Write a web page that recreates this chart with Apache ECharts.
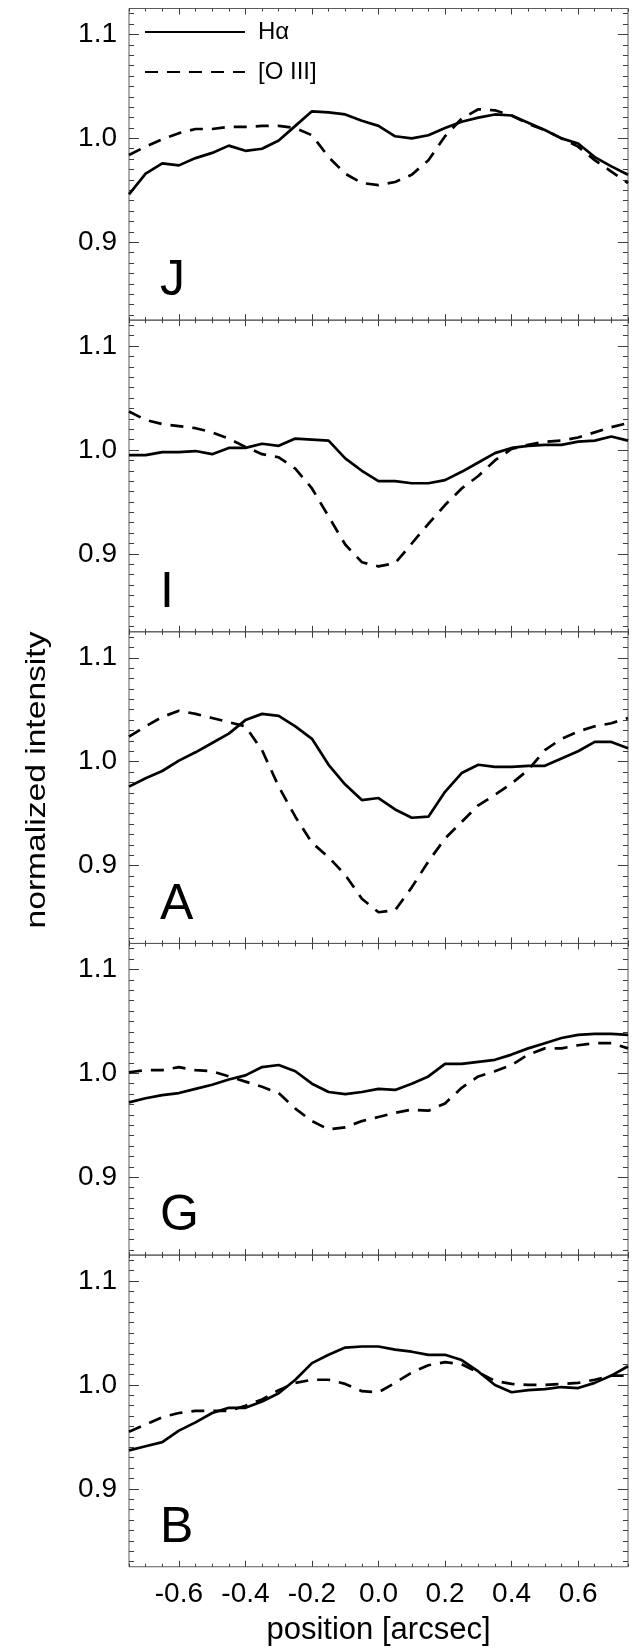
<!DOCTYPE html>
<html>
<head>
<meta charset="utf-8">
<script src="https://cdn.jsdelivr.net/npm/echarts@6/dist/echarts.min.js"></script>
<style>
  html, body { margin: 0; padding: 0; background: #fff; }
  #chart { width: 638px; height: 1650px; }
</style>
</head>
<body>
<div id="chart"></div>
<script>
// slit positions in arcsec
const positions = [-0.75, -0.7, -0.65, -0.6, -0.55, -0.5, -0.45, -0.4, -0.35, -0.3, -0.25, -0.2, -0.15, -0.1, -0.05,
  0, 0.05, 0.1, 0.15, 0.2, 0.25, 0.3, 0.35, 0.4, 0.45, 0.5, 0.55, 0.6, 0.65, 0.7, 0.75]

const panelNames = ['J', 'I', 'A', 'G', 'B']

const haJ = [0.946, 0.966, 0.976, 0.974, 0.981, 0.986, 0.993, 0.988, 0.990, 0.998, 1.012, 1.026, 1.025, 1.023, 1.017,
  1.012, 1.002, 1.000, 1.003, 1.010, 1.016, 1.020, 1.023, 1.022, 1.015, 1.008, 1.000, 0.995, 0.982, 0.973, 0.965]
const o3J = [0.984, 0.992, 0.999, 1.005, 1.009, 1.009, 1.011, 1.011, 1.012, 1.012, 1.010, 1.003, 0.982, 0.966, 0.957,
  0.955, 0.958, 0.965, 0.979, 1.002, 1.019, 1.028, 1.027, 1.022, 1.014, 1.008, 1.000, 0.992, 0.979, 0.968, 0.957]

const haI = [0.995, 0.995, 0.998, 0.998, 0.999, 0.996, 1.002, 1.002, 1.006, 1.004, 1.011, 1.010, 1.009, 0.992, 0.980,
  0.970, 0.970, 0.968, 0.968, 0.971, 0.979, 0.988, 0.997, 1.002, 1.004, 1.005, 1.005, 1.008, 1.009, 1.013, 1.009]
const o3I = [1.037, 1.029, 1.025, 1.023, 1.021, 1.017, 1.011, 1.003, 0.996, 0.993, 0.982, 0.963, 0.936, 0.909, 0.892,
  0.888, 0.891, 0.910, 0.929, 0.947, 0.963, 0.975, 0.990, 1.001, 1.005, 1.008, 1.009, 1.012, 1.017, 1.022, 1.026]

const haA = [0.976, 0.984, 0.991, 1.001, 1.009, 1.018, 1.027, 1.040, 1.046, 1.044, 1.034, 1.022, 0.997, 0.978, 0.963,
  0.965, 0.954, 0.946, 0.947, 0.971, 0.989, 0.997, 0.995, 0.995, 0.996, 0.996, 1.003, 1.010, 1.019, 1.019, 1.013]
const o3A = [1.024, 1.034, 1.043, 1.049, 1.046, 1.042, 1.038, 1.034, 1.011, 0.976, 0.947, 0.922, 0.908, 0.891, 0.868,
  0.855, 0.857, 0.879, 0.904, 0.926, 0.942, 0.958, 0.968, 0.979, 0.992, 1.011, 1.022, 1.029, 1.034, 1.037, 1.042]

const haG = [0.972, 0.976, 0.979, 0.981, 0.985, 0.989, 0.994, 0.998, 1.006, 1.008, 1.002, 0.990, 0.982, 0.980, 0.982,
  0.985, 0.984, 0.990, 0.997, 1.009, 1.009, 1.011, 1.013, 1.018, 1.024, 1.029, 1.034, 1.037, 1.038, 1.038, 1.037]
const o3G = [1.001, 1.003, 1.003, 1.006, 1.003, 1.002, 0.997, 0.992, 0.987, 0.981, 0.966, 0.954, 0.946, 0.948, 0.954,
  0.958, 0.962, 0.965, 0.964, 0.971, 0.986, 0.997, 1.002, 1.008, 1.018, 1.024, 1.024, 1.027, 1.029, 1.029, 1.024]

const haB = [0.937, 0.941, 0.945, 0.956, 0.964, 0.973, 0.978, 0.978, 0.984, 0.992, 1.005, 1.021, 1.029, 1.036, 1.037,
  1.037, 1.034, 1.032, 1.029, 1.029, 1.024, 1.013, 1.000, 0.993, 0.995, 0.996, 0.998, 0.997, 1.002, 1.009, 1.018]
const o3B = [0.955, 0.962, 0.969, 0.973, 0.975, 0.975, 0.975, 0.980, 0.986, 0.995, 1.002, 1.005, 1.005, 1.001, 0.994,
  0.993, 1.002, 1.012, 1.019, 1.022, 1.020, 1.012, 1.004, 1.001, 1.000, 1.000, 1.001, 1.002, 1.005, 1.009, 1.009]

const haSets = [haJ, haI, haA, haG, haB]
const o3Sets = [o3J, o3I, o3A, o3G, o3B]

const xMajor = [-0.6, -0.4, -0.2, 0, 0.2, 0.4, 0.6]
const yMajor = [0.9, 1.0, 1.1]

// minor tick positions (no labels)
const xMinor = []
for (let k = -15; k <= 15; k++) if (k % 4 !== 0) xMinor.push(k * 0.05)
const yMinor = []
for (let k = 83; k <= 112; k++) if (k % 10 !== 0) yMinor.push(k / 100)

const FONT = '"Liberation Sans", Arial, Helvetica, sans-serif'
const xRange = [-0.75, 0.75]
const yRange = [0.825, 1.125]
const gridLeft = 129
const gridWidth = 499
const gridTop = 8.5
const panelH = 311.65

const chart = echarts.init(document.getElementById('chart'), null, { renderer: 'canvas' })

const grids = []
const xAxes = []
const yAxes = []
const series = []
const graphics = []

const tickAxis = (base, pos, values, len, extra) => Object.assign({
  type: 'value',
  position: pos,
  axisLine: { show: false, onZero: false },
  splitLine: { show: false },
  axisTick: { show: true, inside: true, length: len, customValues: values, lineStyle: { color: '#3c3c3c', width: 1 } },
  axisLabel: { show: false }
}, base, extra || {})

panelNames.forEach((name, g) => {
  const top = gridTop + g * panelH
  const last = g === panelNames.length - 1
  grids.push({
    left: gridLeft, width: gridWidth, top: top, height: panelH,
    show: true, borderColor: '#5a5a5a', borderWidth: 1, backgroundColor: 'transparent'
  })

  const xb = { gridIndex: g, min: xRange[0], max: xRange[1] }
  xAxes.push(tickAxis(xb, 'bottom', xMajor, 6, last ? {
    axisLabel: {
      show: true, customValues: xMajor, margin: 14, fontSize: 28, color: '#000', fontFamily: FONT,
      formatter: v => v.toFixed(1)
    },
    name: 'position [arcsec]', nameLocation: 'middle', nameGap: 48,
    nameTextStyle: { fontSize: 31, color: '#000', fontFamily: FONT }
  } : null))
  xAxes.push(tickAxis(xb, 'bottom', xMinor, 3))
  xAxes.push(tickAxis(xb, 'top', xMajor, 6))
  xAxes.push(tickAxis(xb, 'top', xMinor, 3))

  const yb = { gridIndex: g, min: yRange[0], max: yRange[1] }
  yAxes.push(tickAxis(yb, 'left', yMajor, 10, {
    axisLabel: {
      show: true, customValues: yMajor, margin: 12, fontSize: 28, color: '#000', fontFamily: FONT,
      formatter: v => v.toFixed(1)
    }
  }))
  yAxes.push(tickAxis(yb, 'left', yMinor, 5))
  yAxes.push(tickAxis(yb, 'right', yMajor, 10))
  yAxes.push(tickAxis(yb, 'right', yMinor, 5))

  series.push({
    name: 'Hα', type: 'line', xAxisIndex: 4 * g, yAxisIndex: 4 * g,
    data: positions.map((x, i) => [x, haSets[g][i]]),
    symbol: 'none', lineStyle: { color: '#000', width: 2.7 }, itemStyle: { color: '#000' }
  })
  series.push({
    name: '[O III]', type: 'line', xAxisIndex: 4 * g, yAxisIndex: 4 * g,
    data: positions.map((x, i) => [x, o3Sets[g][i]]),
    symbol: 'none', lineStyle: { color: '#000', width: 2.7, type: [13, 9] }, itemStyle: { color: '#000' }
  })

  // panel letter
  graphics.push({
    type: 'text', x: 160, y: top + 273,
    style: { text: name, fontSize: 50, fontFamily: FONT, fill: '#000', align: 'left', verticalAlign: 'middle', textAlign: 'left', textVerticalAlign: 'middle' }
  })
})

// y-axis title
graphics.push({
  type: 'text', x: 37, y: 780, rotation: Math.PI / 2, scaleX: 1.2,
  style: {
    text: 'normalized intensity', fontSize: 28, fontFamily: FONT, fill: '#000',
    align: 'center', verticalAlign: 'middle', textAlign: 'center', textVerticalAlign: 'middle'
  }
})

const option = {
  animation: false,
  backgroundColor: '#fff',
  legend: {
    data: ['Hα', '[O III]'],
    orient: 'vertical',
    left: 144,
    top: 20,
    padding: 0,
    itemWidth: 100,
    itemHeight: 28,
    itemGap: 16,
    itemStyle: { opacity: 0, borderWidth: 0 },
    lineStyle: { width: 2 },
    textStyle: { fontSize: 24, color: '#000', fontFamily: FONT, padding: [0, 0, 0, 8] }
  },
  grid: grids,
  xAxis: xAxes,
  yAxis: yAxes,
  series: series,
  graphic: graphics
}
option && chart.setOption(option)
</script>
</body>
</html>
